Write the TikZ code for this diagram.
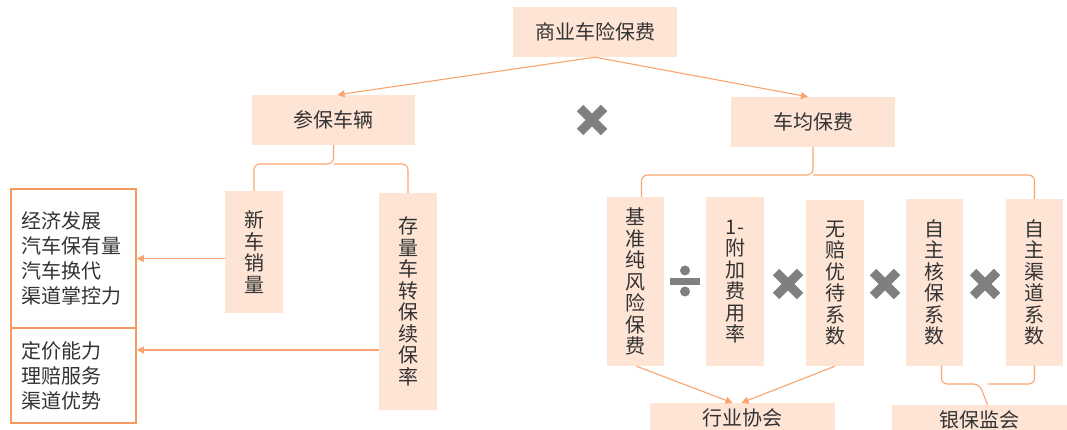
\documentclass[tikz,border=0pt]{standalone}
\usepackage{fontspec}
\setmainfont{Noto Sans CJK SC}
\usetikzlibrary{arrows.meta}
\definecolor{peach}{HTML}{FDE4D5}
\definecolor{lineor}{HTML}{F9A46E}
\definecolor{boxor}{HTML}{F59A5E}
\definecolor{txt}{HTML}{333333}
\definecolor{opgray}{HTML}{7F7F7F}
\tikzset{
  pbox/.style={fill=peach, draw=none, text=txt, inner sep=0pt, align=center,
    font=\fontsize{20}{21.5}\selectfont},
  lbox/.style={draw=boxor, line width=1.6pt, fill=white, text=txt, align=left,
    inner xsep=10pt, inner ysep=0pt, text width=105pt, minimum width=125pt,
    font=\fontsize{20}{25}\selectfont},
  conn/.style={draw=lineor, line width=1.1pt},
  arr/.style={conn, -{Triangle[length=7pt,width=7pt]}},
  brace/.style={conn, rounded corners=6pt},
  mulx/.pic={\draw[opgray, line width=9pt] (-12,-12)--(12,12) (-12,12)--(12,-12);},
  divx/.pic={\fill[opgray] (-15,-3.5) rectangle (15,3.5);
             \fill[opgray] (0,-10.5) circle (5); \fill[opgray] (0,10.5) circle (5);}
}
\begin{document}
\begin{tikzpicture}[x=1pt,y=-1pt]
\useasboundingbox (0,0) rectangle (1067,430);
% top level
\node[pbox, minimum width=164pt, minimum height=50pt] (top) at (595,32) {商业车险保费};
\node[pbox, minimum width=163pt, minimum height=50pt] (cb) at (333.5,120) {参保车辆};
\node[pbox, minimum width=164pt, minimum height=50pt] (cj) at (813,122) {车均保费};
\draw[arr] (top.south) -- ([xshift=4pt]cb.north);
\draw[arr] (top.south) -- ([xshift=-5pt]cj.north);
\pic at (592,120) {mulx};
% left branch
\node[pbox, minimum width=58pt, minimum height=122pt] (xin) at (254,252) {新\\车\\销\\量};
\node[pbox, minimum width=58pt, minimum height=217pt] (cl) at (408,301.5) {存\\量\\车\\转\\保\\续\\保\\率};
\draw[brace] (xin.north) -- (xin.north |- 0,164) -- (cb.south |- 0,164) -- (cb.south);
\draw[brace] (cl.north) -- (cl.north |- 0,164) -- (cb.south |- 0,164);
\node[lbox, minimum height=139pt] (b1) at (73.5,258.5) {经济发展\\汽车保有量\\汽车换代\\渠道掌控力};
\node[lbox, minimum height=95pt] (b2) at (73.5,375.5) {定价能力\\理赔服务\\渠道优势};
\draw[arr] (xin.west |- b1.east) -- (b1.east);
\draw[arr] (cl.west |- 0,350) -- (b2.east |- 0,350);
% right branch
\node[pbox, minimum width=57pt, minimum height=169pt] (jz) at (635.5,281.5) {基\\准\\纯\\风\\险\\保\\费};
\node[pbox, minimum width=58pt, minimum height=169pt] (fj) at (735,281.5) {1-\\附\\加\\费\\用\\率};
\node[pbox, minimum width=58pt, minimum height=166pt] (wp) at (835,283) {无\\赔\\优\\待\\系\\数};
\node[pbox, minimum width=57pt, minimum height=167pt] (hb) at (934.5,282.5) {自\\主\\核\\保\\系\\数};
\node[pbox, minimum width=57pt, minimum height=167pt] (qd) at (1034.5,282.5) {自\\主\\渠\\道\\系\\数};
\draw[brace] ([xshift=6pt]jz.north) -- ([xshift=6pt]jz.north |- 0,175) -- (cj.south |- 0,175) -- (cj.south);
\draw[brace] (qd.north) -- (qd.north |- 0,175) -- (cj.south |- 0,175);
\pic at (685,281) {divx};
\pic at (788,284) {mulx};
\pic at (885,284) {mulx};
\pic at (985,284) {mulx};
% bottom
\node[pbox, minimum width=185pt, minimum height=30pt] (hy) at (742.5,418) {行业协会};
\node[pbox, minimum width=175pt, minimum height=30pt] (yb) at (979.5,420) {银保监会};
\draw[arr] ([xshift=1pt]jz.south) -- ([xshift=-10pt]hy.north);
\draw[arr] (wp.south) -- ([xshift=-1pt]hy.north);
\draw[brace] ([xshift=7pt]hb.south) -- ([xshift=7pt]hb.south |- 0,384) -- (yb.north |- 0,384) -- ([xshift=8pt]yb.north);
\draw[brace] (qd.south) -- (qd.south |- 0,384) -- ([xshift=8pt]yb.north |- 0,384);
\end{tikzpicture}
\end{document}
